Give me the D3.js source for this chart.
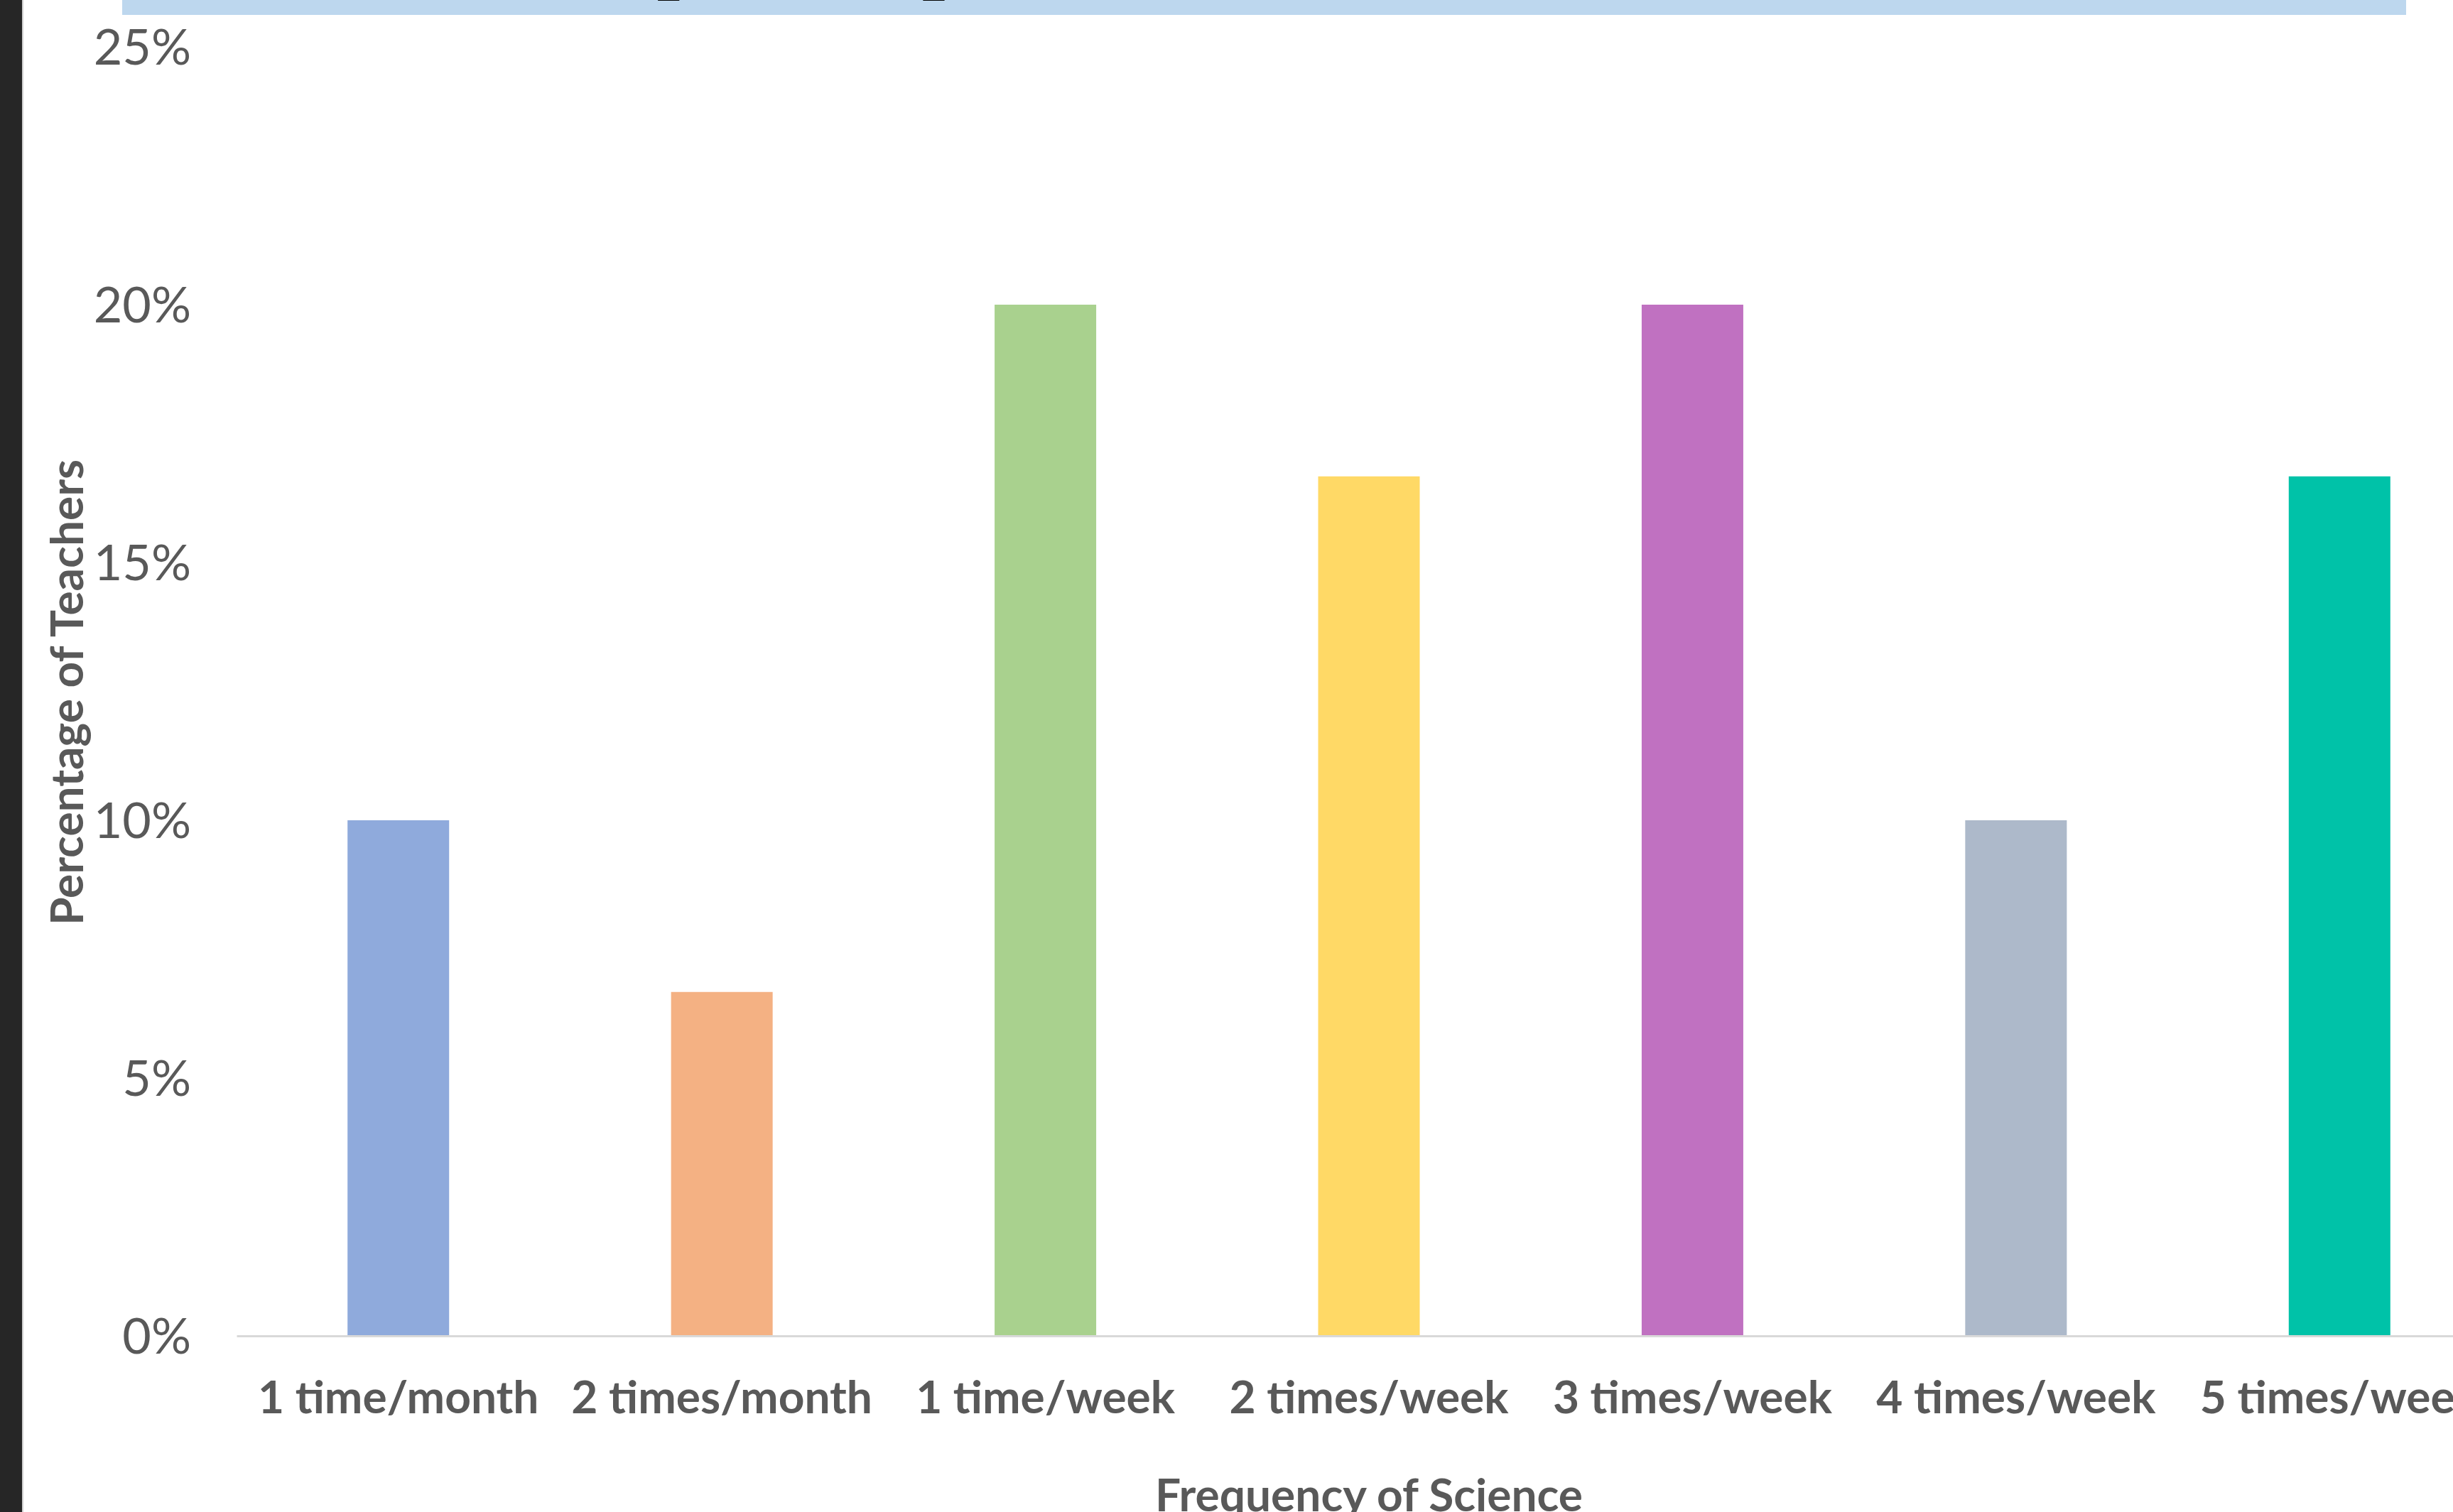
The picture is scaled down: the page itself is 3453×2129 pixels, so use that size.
<!DOCTYPE html>
<html>
<head>
<meta charset="utf-8">
<script src="https://cdn.jsdelivr.net/npm/d3@7/dist/d3.min.js"></script>
<style>
  html, body { margin: 0; padding: 0; background: #ffffff; overflow: hidden; }
  svg { display: block; }
</style>
</head>
<body>
<svg id="chart" width="3453" height="2129"></svg>
<script>
// Share of teachers by how often they teach science
const categories = ["1 time/month", "2 times/month", "1 time/week", "2 times/week", "3 times/week", "4 times/week", "5 times/week"];
const teacherShare = [0.10, 0.0667, 0.20, 0.1667, 0.20, 0.10, 0.1667];
const barColors = ["#8FAADC", "#F4B183", "#A9D18E", "#FFD966", "#C071C1", "#ADB9CA", "#00C2A8"];
const yTicks = [0, 0.05, 0.10, 0.15, 0.20, 0.25];
const xTitle = "Frequency of Science";
const yTitle = "Percentage of Teachers";

const W = 3453, H = 2129;
const plot = { left: 333, right: 3521, top: 66, bottom: 1881 };
const font = "Lato, 'Open Sans', sans-serif";
const textColor = "#595959";

const svg = d3.select("#chart");

// white page with a dark strip on the left edge
svg.append("rect").attr("width", W).attr("height", H).attr("fill", "#ffffff");
svg.append("rect").attr("x", 0).attr("y", 0).attr("width", 31).attr("height", H).attr("fill", "#262626");
svg.append("rect").attr("x", 31).attr("y", 0).attr("width", 2).attr("height", H).attr("fill", "#d0d0d0");

// title band along the top
svg.append("rect").attr("x", 172).attr("y", 0).attr("width", 3387 - 172).attr("height", 21).attr("fill", "#BDD7EE");
const brackets = svg.append("g")
  .attr("font-family", "'DejaVu Sans', sans-serif")
  .attr("font-weight", "bold")
  .attr("font-style", "italic")
  .attr("font-size", 100)
  .attr("fill", "#000000");
brackets.append("text").attr("x", 927).attr("y", -12).text("[");
brackets.append("text").attr("x", 1302).attr("y", -12).text("]");

const x = d3.scaleBand()
  .domain(categories)
  .range([plot.left, plot.right])
  .paddingInner(0.686)
  .paddingOuter(0.343);

const y = d3.scaleLinear()
  .domain([0, 0.25])
  .range([plot.bottom, plot.top]);

// bars
svg.append("g").selectAll("rect")
  .data(categories)
  .join("rect")
  .attr("x", d => x(d))
  .attr("width", x.bandwidth())
  .attr("y", (d, i) => y(teacherShare[i]))
  .attr("height", (d, i) => y(0) - y(teacherShare[i]))
  .attr("fill", (d, i) => barColors[i]);

// y axis: labels only
const yAxis = svg.append("g")
  .attr("transform", `translate(${plot.left - 64},0)`)
  .call(d3.axisLeft(y).tickValues(yTicks).tickSize(0).tickPadding(0).tickFormat(d3.format(".0%")));
yAxis.select(".domain").remove();
yAxis.selectAll("text")
  .attr("font-family", font)
  .attr("font-size", 70)
  .attr("fill", textColor)
  .attr("dy", "0.35em");

// x axis: baseline and category labels
const xAxis = svg.append("g")
  .attr("transform", `translate(0,${plot.bottom})`)
  .call(d3.axisBottom(x).tickSize(0).tickSizeOuter(0).tickPadding(0));
xAxis.select(".domain").attr("stroke", "#D9D9D9").attr("stroke-width", 3);
xAxis.selectAll("text")
  .attr("font-family", font)
  .attr("font-weight", "bold")
  .attr("font-size", 64)
  .attr("fill", textColor)
  .attr("dy", null)
  .attr("y", 109);

// axis titles
svg.append("text")
  .attr("x", (plot.left + plot.right) / 2)
  .attr("y", 2128)
  .attr("text-anchor", "middle")
  .attr("font-family", font)
  .attr("font-weight", "bold")
  .attr("font-size", 64)
  .attr("fill", textColor)
  .text(xTitle);

svg.append("text")
  .attr("transform", "translate(117,975) rotate(-90)")
  .attr("text-anchor", "middle")
  .attr("font-family", font)
  .attr("font-weight", "bold")
  .attr("font-size", 64)
  .attr("fill", textColor)
  .text(yTitle);
</script>
</body>
</html>
